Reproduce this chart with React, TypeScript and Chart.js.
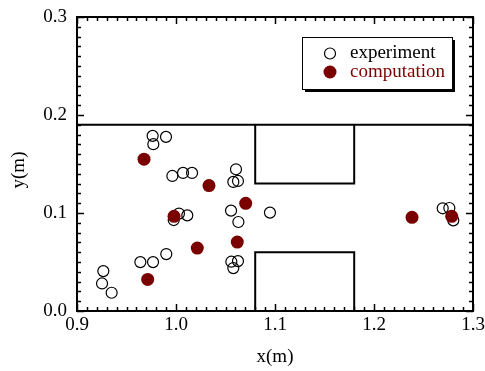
import React, { useEffect, useRef } from "react";
import { Chart, registerables } from "chart.js";

Chart.register(...registerables);

// ---- data ----
const experimentX = [0.9764, 0.9899, 0.9771, 0.9963, 1.0071, 1.0162, 1.0606, 1.0579, 1.0626, 1.0556, 1.063, 1.0949, 0.9977, 1.003, 1.0114, 0.9266, 0.9253, 0.935, 0.964, 0.9768, 0.9902, 1.0559, 1.0626, 1.0579, 1.2694, 1.2761, 1.2801];
const experimentY = [0.1787, 0.1777, 0.1702, 0.1378, 0.1409, 0.1409, 0.1446, 0.1317, 0.1327, 0.1024, 0.0908, 0.1004, 0.0928, 0.0994, 0.0976, 0.0407, 0.0281, 0.0186, 0.0499, 0.0499, 0.0581, 0.0503, 0.0509, 0.0438, 0.1048, 0.1051, 0.0925];
const computationX = [0.9677, 1.0333, 1.0704, 0.998, 1.0215, 1.0619, 0.9714, 1.2384, 1.2785];
const computationY = [0.1549, 0.128, 0.1099, 0.0966, 0.0642, 0.0703, 0.0322, 0.0956, 0.0966];

const channelTopX = [0.9, 1.3];
const channelTopY = [0.19, 0.19];
const upperBlockX = [1.08, 1.08, 1.18, 1.18];
const upperBlockY = [0.19, 0.13, 0.13, 0.19];
const lowerBlockX = [1.08, 1.08, 1.18, 1.18];
const lowerBlockY = [0, 0.06, 0.06, 0];

const xRange = [0.9, 1.3];
const yRange = [0, 0.3];
const majorStep = 0.1;
const minorStep = 0.01;
const legendLabels = ["experiment", "computation"];
const xTitle = "x(m)";
const yTitle = "y(m)";

const MAROON = "#7a0000";
const FONT = "'Liberation Serif', 'Times New Roman', serif";

const toPoints = (xs: number[], ys: number[]) => xs.map((x, i) => ({ x, y: ys[i] }));

const framePlugin = {
  id: "frameTicksLegend",
  afterDraw(chart: any) {
    const { ctx, chartArea: a, scales } = chart;
    const sx = scales.x;
    const sy = scales.y;
    ctx.save();
    ctx.strokeStyle = "#000";
    ctx.lineWidth = 1.5;
    ctx.beginPath();
    const nx = Math.round((xRange[1] - xRange[0]) / minorStep);
    const per = Math.round(majorStep / minorStep);
    for (let i = 0; i <= nx; i++) {
      const px = Math.round(sx.getPixelForValue(xRange[0] + i * minorStep)) + 0.5;
      const len = i % per === 0 ? 7 : 4;
      ctx.moveTo(px, a.bottom);
      ctx.lineTo(px, a.bottom - len);
      ctx.moveTo(px, a.top);
      ctx.lineTo(px, a.top + len);
    }
    const ny = Math.round((yRange[1] - yRange[0]) / minorStep);
    for (let i = 0; i <= ny; i++) {
      const py = Math.round(sy.getPixelForValue(yRange[0] + i * minorStep)) + 0.5;
      const len = i % per === 0 ? 7 : 4;
      ctx.moveTo(a.left, py);
      ctx.lineTo(a.left + len, py);
      ctx.moveTo(a.right, py);
      ctx.lineTo(a.right - len, py);
    }
    ctx.stroke();
    ctx.lineWidth = 2;
    ctx.strokeRect(a.left, a.top, a.right - a.left, a.bottom - a.top);

    // y axis title
    ctx.save();
    ctx.translate(19, 170);
    ctx.rotate(-Math.PI / 2);
    ctx.font = `19px ${FONT}`;
    ctx.fillStyle = "#000";
    ctx.textAlign = "center";
    ctx.textBaseline = "middle";
    ctx.fillText(yTitle, 0, 0);
    ctx.restore();

    // legend box
    const bx = 302, by = 37, bw = 150, bh = 52;
    ctx.fillStyle = "#000";
    ctx.fillRect(bx + 3, by + 3, bw, bh);
    ctx.fillStyle = "#fff";
    ctx.fillRect(bx, by, bw, bh);
    ctx.lineWidth = 1;
    ctx.strokeStyle = "#000";
    ctx.strokeRect(bx + 0.5, by + 0.5, bw, bh);

    // legend entries
    ctx.beginPath();
    ctx.lineWidth = 1.2;
    ctx.arc(330, 53.5, 5.5, 0, Math.PI * 2);
    ctx.stroke();
    ctx.beginPath();
    ctx.fillStyle = MAROON;
    ctx.arc(330, 72, 6.5, 0, Math.PI * 2);
    ctx.fill();
    ctx.font = `19px ${FONT}`;
    ctx.textBaseline = "middle";
    ctx.textAlign = "left";
    ctx.fillStyle = "#000";
    ctx.fillText(legendLabels[0], 350, 53);
    ctx.fillStyle = MAROON;
    ctx.fillText(legendLabels[1], 350, 72);
    ctx.restore();
  },
};

export default function App() {
  const ref = useRef<HTMLCanvasElement | null>(null);
  useEffect(() => {
    if (!ref.current) return;
    const lineDs = (xs: number[], ys: number[], label: string) => ({
      label,
      data: toPoints(xs, ys),
      showLine: true,
      pointRadius: 0,
      borderColor: "#000",
      borderWidth: 2,
      fill: false,
      tension: 0,
      borderJoinStyle: "miter",
    });
    const tickFont = { family: FONT, size: 19 };
    const chart = new Chart(ref.current, {
      type: "scatter",
      data: {
        datasets: [
          {
            label: legendLabels[1],
            data: toPoints(computationX, computationY),
            pointRadius: 6.5,
            backgroundColor: MAROON,
            borderColor: MAROON,
            borderWidth: 0,
          },
          {
            label: legendLabels[0],
            data: toPoints(experimentX, experimentY),
            pointRadius: 5.5,
            backgroundColor: "rgba(255,255,255,0)",
            borderColor: "#000",
            borderWidth: 1.2,
          },
          lineDs(channelTopX, channelTopY, "wall"),
          lineDs(upperBlockX, upperBlockY, "upper"),
          lineDs(lowerBlockX, lowerBlockY, "lower"),
        ] as any,
      },
      options: {
        animation: false,
        responsive: false,
        events: [],
        layout: { padding: { left: 0, right: 12, top: 17, bottom: 0 } },
        plugins: { legend: { display: false }, tooltip: { enabled: false } },
        scales: {
          x: {
            type: "linear",
            min: xRange[0],
            max: xRange[1],
            grid: { display: false, drawTicks: false },
            border: { display: false },
            ticks: {
              stepSize: majorStep,
              padding: 3,
              color: "#000",
              font: tickFont,
              maxRotation: 0,
              callback: (v: any) => Number(v).toFixed(1),
            },
            title: { display: true, text: xTitle, color: "#000", font: tickFont, padding: { top: 0, bottom: 3 } },
            afterFit: (s: any) => {
              s.height = 60;
              s.paddingLeft = 0;
              s.paddingRight = 0;
            },
          },
          y: {
            type: "linear",
            min: yRange[0],
            max: yRange[1],
            grid: { display: false, drawTicks: false },
            border: { display: false },
            ticks: {
              stepSize: majorStep,
              padding: 10,
              color: "#000",
              font: tickFont,
              callback: (v: any) => Number(v).toFixed(1),
            },
            title: { display: false },
            afterFit: (s: any) => {
              s.width = 77;
              s.paddingTop = 0;
              s.paddingBottom = 0;
            },
          },
        },
      } as any,
      plugins: [framePlugin],
    });
    return () => chart.destroy();
  }, []);
  return (
    <div style={{ position: "absolute", left: 0, top: 0, width: 485, height: 371, background: "#fff" }}>
      <canvas ref={ref} width={485} height={371} style={{ display: "block" }} />
    </div>
  );
}
